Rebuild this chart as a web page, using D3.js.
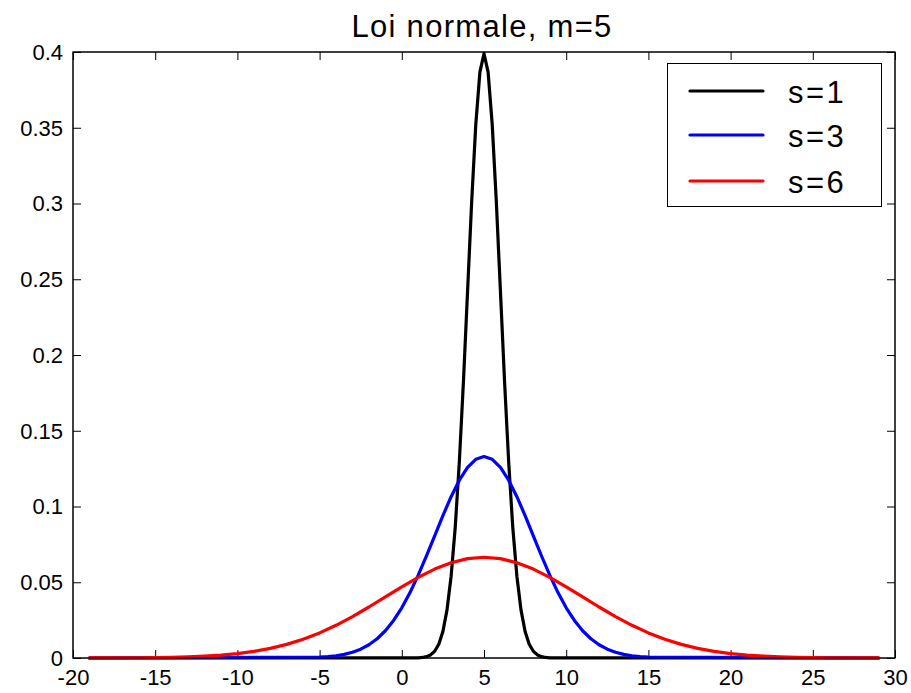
<!DOCTYPE html>
<html><head><meta charset="utf-8">
<script src="https://cdn.jsdelivr.net/npm/d3@7"></script>
<style>body{margin:0;background:#fff}svg{display:block;font-family:"Liberation Sans",Arial,sans-serif}</style>
</head><body>
<script>
// Data (Loi normale, m=5)
const xBlack = [-19, 1, 1.25, 1.5, 1.75, 2, 2.25, 2.5, 2.75, 3, 3.25, 3.5, 3.75, 4, 4.25, 4.5, 4.75, 5,
  5.25, 5.5, 5.75, 6, 6.25, 6.5, 6.75, 7, 7.25, 7.5, 7.75, 8, 8.25, 8.5, 8.75, 9, 29];
const yBlack = [0, 0.000134, 0.000353, 0.000873, 0.002029, 0.004432, 0.009094, 0.017528, 0.031740, 0.053991,
  0.086277, 0.129518, 0.182649, 0.241971, 0.301137, 0.352065, 0.386668, 0.398942,
  0.386668, 0.352065, 0.301137, 0.241971, 0.182649, 0.129518, 0.086277, 0.053991, 0.031740, 0.017528,
  0.009094, 0.004432, 0.002029, 0.000873, 0.000353, 0.000134, 0];
const xBlue = [-19, -5, -4.5, -4, -3.5, -3, -2.5, -2, -1.5, -1, -0.5, 0, 0.5, 1, 1.5, 2, 2.5, 3, 3.5, 4, 4.5, 5,
  5.5, 6, 6.5, 7, 7.5, 8, 8.5, 9, 9.5, 10, 10.5, 11, 11.5, 12, 12.5, 13, 13.5, 14, 14.5, 15, 29];
const yBlue = [0, 0.000514, 0.000884, 0.001477, 0.002402, 0.003799, 0.005843, 0.008741, 0.012718, 0.017997,
  0.024769, 0.033159, 0.043172, 0.054670, 0.067332, 0.080657, 0.093970, 0.106483, 0.117356, 0.125795,
  0.131147, 0.132981, 0.131147, 0.125795, 0.117356, 0.106483, 0.093970, 0.080657, 0.067332, 0.054670,
  0.043172, 0.033159, 0.024769, 0.017997, 0.012718, 0.008741, 0.005843, 0.003799, 0.002402, 0.001477,
  0.000884, 0.000514, 0];
const xRed = [-19, -18, -17, -16, -15, -14, -13, -12, -11, -10, -9, -8, -7, -6, -5, -4, -3, -2, -1, 0, 1, 2, 3, 4, 5,
  6, 7, 8, 9, 10, 11, 12, 13, 14, 15, 16, 17, 18, 19, 20, 21, 22, 23, 24, 25, 26, 27, 28, 29];
const yRed = [0.000022, 0.000043, 0.000080, 0.000145, 0.000257, 0.000442, 0.000739, 0.001201, 0.001899, 0.002922,
  0.004370, 0.006359, 0.008999, 0.012385, 0.016579, 0.021586, 0.027335, 0.033666, 0.040328, 0.046985,
  0.053241, 0.058678, 0.062897, 0.065573, 0.066490, 0.065573, 0.062897, 0.058678, 0.053241, 0.046985,
  0.040328, 0.033666, 0.027335, 0.021586, 0.016579, 0.012385, 0.008999, 0.006359, 0.004370, 0.002922,
  0.001899, 0.001201, 0.000739, 0.000442, 0.000257, 0.000145, 0.000080, 0.000043, 0.000022];
const seriesNames = ["s=1", "s=3", "s=6"];
const seriesColors = ["#000000", "#0000ff", "#ff0000"];
const xTicks = [-20, -15, -10, -5, 0, 5, 10, 15, 20, 25, 30];
const yTicks = [0, 0.05, 0.1, 0.15, 0.2, 0.25, 0.3, 0.35, 0.4];
const yTickLabels = ["0", "0.05", "0.1", "0.15", "0.2", "0.25", "0.3", "0.35", "0.4"];
const title = "Loi normale, m=5";

const W = 911, H = 693;
const L = 73, R = 895, T = 52, B = 658;
const svg = d3.select("body").append("svg").attr("width", W).attr("height", H);
const x = d3.scaleLinear().domain([-20, 30]).range([L, R]);
const y = d3.scaleLinear().domain([0, 0.4]).range([B, T]);

svg.append("rect").attr("x", L).attr("y", T).attr("width", R - L).attr("height", B - T)
  .attr("fill", "#fff").attr("stroke", "#000").attr("stroke-width", 1);

const gx = svg.append("g").attr("transform", `translate(0,${B})`)
  .call(d3.axisBottom(x).tickValues(xTicks).tickFormat(d => String(d)).tickSizeInner(-8).tickSizeOuter(0).tickPadding(11));
const gxT = svg.append("g").attr("transform", `translate(0,${T})`)
  .call(d3.axisTop(x).tickValues(xTicks).tickFormat("").tickSizeInner(-8).tickSizeOuter(0));
const gy = svg.append("g").attr("transform", `translate(${L},0)`)
  .call(d3.axisLeft(y).tickValues(yTicks).tickFormat((d, i) => yTickLabels[i]).tickSizeInner(-8).tickSizeOuter(0).tickPadding(10));
const gyR = svg.append("g").attr("transform", `translate(${R},0)`)
  .call(d3.axisRight(y).tickValues(yTicks).tickFormat("").tickSizeInner(-8).tickSizeOuter(0));
[gx, gxT, gy, gyR].forEach(g => {
  g.select(".domain").remove();
  g.selectAll("line").attr("stroke", "#000").attr("stroke-width", 1);
  g.selectAll("text").attr("fill", "#000").style("font-size", "22px").style("font-family", "'Liberation Sans', Arial, sans-serif");
});
gy.selectAll("text").attr("dy", "0.34em");

const series = [[xBlack, yBlack], [xBlue, yBlue], [xRed, yRed]];
const line = d3.line().x(d => x(d[0])).y(d => y(d[1]));
series.forEach((s, i) => {
  const pts = s[0].map((v, j) => [v, s[1][j]]);
  svg.append("path").datum(pts).attr("d", line).attr("fill", "none")
    .attr("stroke", seriesColors[i]).attr("stroke-width", 3.2).attr("stroke-linejoin", "round").attr("stroke-linecap", "round");
});

svg.append("rect").attr("x", L).attr("y", T).attr("width", R - L).attr("height", B - T)
  .attr("fill", "none").attr("stroke", "#000").attr("stroke-width", 1);

svg.append("text").attr("x", 482).attr("y", 37).attr("text-anchor", "middle")
  .style("font-size", "31px").style("letter-spacing", "1.3px").text(title);

const lg = svg.append("g");
lg.append("rect").attr("x", 667.5).attr("y", 63.5).attr("width", 214).attr("height", 143)
  .attr("fill", "#fff").attr("stroke", "#000").attr("stroke-width", 1);
const legY = [91, 135, 181];
seriesNames.forEach((n, i) => {
  lg.append("line").attr("x1", 690).attr("x2", 763).attr("y1", legY[i]).attr("y2", legY[i])
    .attr("stroke", seriesColors[i]).attr("stroke-width", 3.2).attr("stroke-linecap", "round");
  lg.append("text").attr("x", 788).attr("y", legY[i] + 12).style("font-size", "31px").style("letter-spacing", "2.5px").text(n);
});
</script>
</body></html>
